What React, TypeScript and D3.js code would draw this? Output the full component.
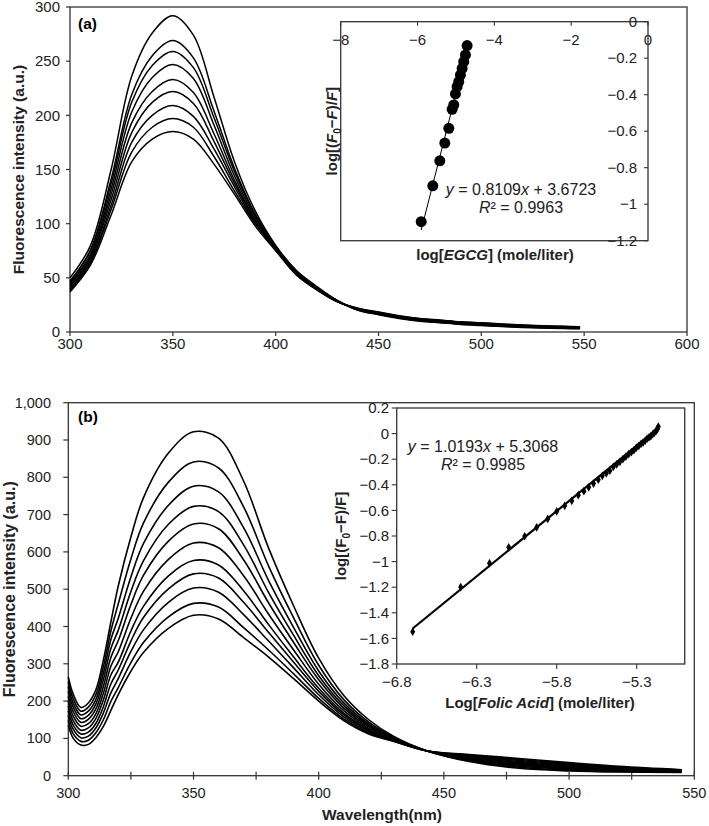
import React from 'react';
import * as d3 from 'd3';

const FONT = '"Liberation Sans", Arial, Helvetica, sans-serif';

// ---------- Panel (a): EGCG quenching spectra ----------
const waveA = [300, 310, 320, 330, 340, 350, 360, 370, 380, 390, 400, 410, 420, 430, 440, 450, 460, 470, 480, 490, 500, 510, 520, 530, 540, 548];
const spectraA = [
  [50, 80, 150, 236, 276, 292, 274, 217, 157, 112, 80, 57, 42, 29, 20, 16, 12.5, 10, 8.5, 7, 6, 5, 4.2, 3.6, 3.2, 3],
  [47, 76, 141, 219, 255, 269, 253, 204, 151, 109, 79, 56, 41, 29, 20.3, 16.3, 12.8, 10.3, 8.8, 7.3, 6.3, 5.3, 4.5, 3.9, 3.5, 3.2],
  [46, 75, 137, 212, 246, 259, 244, 198, 148, 108, 78, 56, 41, 29, 20.5, 16.6, 13.1, 10.6, 9.1, 7.6, 6.6, 5.6, 4.8, 4.2, 3.7, 3.5],
  [44.5, 72, 132, 203, 235, 247, 234, 191, 144, 106, 78, 55, 41, 29, 20.8, 16.9, 13.4, 10.9, 9.4, 7.9, 6.9, 5.9, 5.1, 4.4, 4, 3.7],
  [43, 70, 127, 193, 222, 233, 221, 183, 140, 104, 77, 55, 40, 28, 21, 17.3, 13.8, 11.3, 9.8, 8.3, 7.3, 6.3, 5.4, 4.7, 4.2, 3.9],
  [41.5, 68, 122, 184, 212, 222, 211, 176, 137, 103, 77, 54, 40, 28, 21.3, 17.6, 14.1, 11.6, 10.1, 8.6, 7.6, 6.6, 5.6, 5, 4.5, 4.1],
  [40, 66, 117, 175, 200, 209, 199, 169, 134, 101, 76, 54, 40, 28, 21.5, 17.9, 14.4, 11.9, 10.4, 8.9, 7.9, 6.9, 5.9, 5.3, 4.7, 4.4],
  [38.5, 64, 113, 166, 189, 197, 189, 162, 130, 100, 76, 53, 39, 28, 21.8, 18.2, 14.7, 12.2, 10.7, 9.2, 8.2, 7.2, 6.2, 5.5, 5, 4.6],
  [37, 62, 108, 157, 178, 185, 178, 155, 127, 98, 75, 53, 39, 28, 22, 18.5, 15, 12.5, 11, 9.5, 8.5, 7.5, 6.5, 5.8, 5.2, 4.8],
];
const ticksAX = [300, 350, 400, 450, 500, 550, 600];
const ticksAY = [0, 50, 100, 150, 200, 250, 300];

// Inset (a): log[(F0-F)/F] vs log[EGCG]
const insetAX = [-5.904, -5.602, -5.42, -5.29, -5.186, -5.099, -5.057, -5.013, -4.97, -4.927, -4.883, -4.839, -4.797, -4.753, -4.709];
const insetAY = [-1.096, -0.899, -0.762, -0.665, -0.584, -0.48, -0.456, -0.396, -0.356, -0.329, -0.292, -0.256, -0.219, -0.182, -0.131];
const insetATicksX = [-8, -6, -4, -2, 0];
const insetATicksY = [0, -0.2, -0.4, -0.6, -0.8, -1, -1.2];

// ---------- Panel (b): Folic acid quenching spectra ----------
const waveB = [300, 302, 305, 308, 311, 314, 317, 320, 325, 330, 340, 350, 360, 370, 380, 390, 400, 410, 420, 430, 443, 460, 480, 500, 520, 545];
const spectraB = [
  [265, 218, 183, 195, 230, 310, 412, 510, 640, 745, 865, 922, 905, 790, 610, 455, 315, 215, 150, 105, 67, 38, 20, 13, 10, 9],
  [252, 206, 173, 184, 217, 292, 388, 462, 581, 677, 787, 841, 825, 721, 562, 423, 296, 203.9, 143.7, 102.9, 67, 39.9, 22.6, 15.2, 11.5, 9.7],
  [239, 194, 163, 173, 204, 274, 365, 423, 533, 622, 725, 776, 761, 665, 523, 397, 280.8, 195.1, 138.7, 101.1, 67, 41.8, 25.2, 17.4, 13, 10.4],
  [226, 183, 153, 162, 192, 257, 341, 391, 494, 576, 674, 722, 708, 619, 491, 376, 268.2, 187.7, 134.5, 99.7, 67, 43.7, 27.8, 19.6, 14.5, 11.1],
  [213, 171, 143, 151, 179, 239, 317, 363, 459, 537, 629, 675, 662, 579, 463, 357, 257.3, 181.4, 130.9, 98.5, 67, 45.6, 30.4, 21.8, 16, 11.8],
  [200, 159, 132.5, 139.5, 166, 221, 293.5, 333, 422, 494, 580, 624, 611, 536, 433, 337, 245.3, 174.4, 127, 97.1, 67, 47.5, 33, 24, 17.5, 12.5],
  [187, 147, 122, 128, 153, 203, 270, 305, 388, 454, 536, 577, 565, 496, 405, 318, 234.4, 168, 123.4, 95.9, 67, 49.4, 35.6, 26.2, 19, 13.2],
  [174, 135, 112, 117, 140, 185, 246, 284, 361, 424, 501, 541, 530, 465, 384, 304, 226, 163.1, 120.6, 94.9, 67, 51.3, 38.2, 28.4, 20.5, 13.9],
  [161, 124, 102, 106, 128, 168, 222, 261, 333, 391, 465, 503, 492, 432, 361, 289, 217, 157.9, 117.6, 93.9, 67, 53.2, 40.8, 30.6, 22, 14.6],
  [148, 112, 92, 95, 115, 150, 199, 237, 303, 357, 426, 462, 452, 397, 337, 273, 207.5, 152.4, 114.5, 92.8, 67, 55.1, 43.4, 32.8, 23.5, 15.3],
  [135, 100, 82, 84, 102, 132, 175, 218, 280, 330, 395, 430, 420, 370, 318, 260, 200, 148, 112, 92, 67, 57, 46, 35, 25, 16],
];
const ticksBXLabel = [300, 350, 400, 450, 500, 550];
const ticksBXMajor = [300, 325, 350, 375, 400, 425, 450, 475, 500, 525, 550];
const ticksBY = [0, 100, 200, 300, 400, 500, 600, 700, 800, 900, 1000];

// Inset (b): log[(F0-F)/F] vs Log[Folic Acid]
const insetBX = [-6.7, -6.4, -6.22, -6.1, -6.0, -5.925, -5.856, -5.8, -5.75, -5.706, -5.665, -5.63, -5.6, -5.57, -5.54, -5.515, -5.49, -5.468, -5.446, -5.425, -5.405, -5.386, -5.368, -5.35, -5.333, -5.317, -5.302, -5.287, -5.273, -5.26, -5.247, -5.235, -5.223, -5.212, -5.2, -5.19, -5.18, -5.17, -5.165];
const insetBY = [-1.548, -1.199, -1.012, -0.888, -0.802, -0.732, -0.667, -0.608, -0.564, -0.525, -0.481, -0.45, -0.42, -0.39, -0.36, -0.33, -0.31, -0.29, -0.26, -0.24, -0.22, -0.2, -0.18, -0.16, -0.145, -0.13, -0.11, -0.095, -0.08, -0.07, -0.055, -0.04, -0.03, -0.02, -0.005, 0.005, 0.02, 0.035, 0.055];
const fitB = { slope: 1.0193, intercept: 5.3068 };
const insetBTicksX = [-6.8, -6.3, -5.8, -5.3];
const insetBTicksY = [0.2, 0, -0.2, -0.4, -0.6, -0.8, -1, -1.2, -1.4, -1.6, -1.8];

const minus = (s: string) => s.replace('-', '\u2212');

function leastSquares(xs: number[], ys: number[]) {
  const mx = d3.mean(xs) as number;
  const my = d3.mean(ys) as number;
  let num = 0, den = 0;
  xs.forEach((x, i) => { num += (x - mx) * (ys[i] - my); den += (x - mx) * (x - mx); });
  const slope = num / den;
  return { slope, intercept: my - slope * mx };
}

export default function App() {
  // Panel a scales
  const ax = d3.scaleLinear().domain([300, 600]).range([70, 687]);
  const ay = d3.scaleLinear().domain([0, 300]).range([332, 7]);
  // Panel b scales
  const bx = d3.scaleLinear().domain([300, 550]).range([68.3, 694.3]);
  const by = d3.scaleLinear().domain([0, 1000]).range([775.7, 402.7]);
  // Inset a
  const iax = d3.scaleLinear().domain([-8, 0]).range([340.7, 648]);
  const iay = d3.scaleLinear().domain([-1.2, 0]).range([240.7, 21.7]);
  // Inset b
  const ibx = d3.scaleLinear().domain([-6.8, -5.0]).range([396.7, 684.7]);
  const iby = d3.scaleLinear().domain([-1.8, 0.2]).range([664, 408]);

  const curve = d3.curveCatmullRom.alpha(0.5);
  const lineA = (vals: number[]) =>
    d3.line<number>().x((_, i) => ax(waveA[i])).y((d) => ay(d)).curve(curve)(vals) || '';
  const lineB = (vals: number[]) =>
    d3.line<number>().x((_, i) => bx(waveB[i])).y((d) => by(d)).curve(curve)(vals) || '';

  const fitA = leastSquares(insetAX, insetAY);
  const aX0 = d3.min(insetAX) as number, aX1 = d3.max(insetAX) as number;
  const bX0 = d3.min(insetBX) as number, bX1 = d3.max(insetBX) as number;
  const diamond = d3.symbol().type(d3.symbolDiamond).size(22)() || '';

  const fmtB = d3.format(',');
  const axisColor = '#333';

  return (
    <svg width={709} height={826} style={{ position: 'absolute', left: 0, top: 0, background: '#fff' }} fontFamily={FONT}>
      <rect x={0} y={0} width={709} height={826} fill="#fff" />

      {/* ================= Panel (a) ================= */}
      <rect x={ax(300)} y={ay(300)} width={ax(600) - ax(300)} height={ay(0) - ay(300)} fill="none" stroke={axisColor} strokeWidth={1.3} />
      {ticksAY.map((t) => (
        <g key={'ay' + t}>
          <line x1={ax(300) - 4} x2={ax(300)} y1={ay(t)} y2={ay(t)} stroke={axisColor} strokeWidth={1.2} />
          <text x={60} y={ay(t)} dy="0.35em" textAnchor="end" fontSize={15} fill="#222">{t}</text>
        </g>
      ))}
      {ticksAX.map((t) => (
        <g key={'ax' + t}>
          <line x1={ax(t)} x2={ax(t)} y1={ay(0)} y2={ay(0) + 4} stroke={axisColor} strokeWidth={1.2} />
          <text x={ax(t)} y={349} textAnchor="middle" fontSize={15} fill="#222">{t}</text>
        </g>
      ))}
      {spectraA.map((s, i) => (
        <path key={'sa' + i} d={lineA(s)} fill="none" stroke="#000" strokeWidth={1.5} />
      ))}
      <text x={78} y={29} fontSize={15.5} fontWeight="bold">(a)</text>
      <text transform={`translate(19,${(ay(0) + ay(300)) / 2}) rotate(-90)`} textAnchor="middle" dy="0.35em" fontSize={15.5} fontWeight="bold" fill="#222">
        Fluorescence intensity (a.u.)
      </text>

      {/* Inset (a) */}
      <rect x={iax(-8)} y={iay(0)} width={iax(0) - iax(-8)} height={iay(-1.2) - iay(0)} fill="#fff" stroke={axisColor} strokeWidth={1.3} />
      {insetATicksX.map((t) => (
        <g key={'iax' + t}>
          <line x1={iax(t)} x2={iax(t)} y1={iay(0)} y2={iay(0) + 4} stroke={axisColor} strokeWidth={1.1} />
          <text x={iax(t)} y={45} textAnchor="middle" fontSize={15} fill="#222">{minus(String(t))}</text>
        </g>
      ))}
      {insetATicksY.map((t) => (
        <g key={'iay' + t}>
          <line x1={iax(0) - 4} x2={iax(0)} y1={iay(t)} y2={iay(t)} stroke={axisColor} strokeWidth={1.1} />
          <text x={637} y={iay(t)} dy="0.35em" textAnchor="end" fontSize={15} fill="#222">{minus(String(t))}</text>
        </g>
      ))}
      <line x1={iax(aX0)} x2={iax(aX1)} y1={iay(fitA.slope * aX0 + fitA.intercept)} y2={iay(fitA.slope * aX1 + fitA.intercept)} stroke="#000" strokeWidth={1} />
      {insetAX.map((x, i) => (
        <circle key={'pa' + i} cx={iax(x)} cy={iay(insetAY[i])} r={5.5} fill="#000" />
      ))}
      <text x={521} y={195} textAnchor="middle" fontSize={16} fill="#222">
        <tspan fontStyle="italic">y</tspan> = 0.8109<tspan fontStyle="italic">x</tspan> + 3.6723
      </text>
      <text x={521} y={213} textAnchor="middle" fontSize={16} fill="#222">
        <tspan fontStyle="italic">R</tspan>² = 0.9963
      </text>
      <text x={495} y={260} textAnchor="middle" fontSize={15} fontWeight="bold" fill="#222">
        log[<tspan fontStyle="italic">EGCG</tspan>] (mole/liter)
      </text>
      <text transform={`translate(332,${(iay(0) + iay(-1.2)) / 2}) rotate(-90)`} textAnchor="middle" dy="0.35em" fontSize={15} fontWeight="bold" fill="#222">
        log[(<tspan fontStyle="italic">F</tspan><tspan fontSize={10} dy={4}>0</tspan><tspan dy={-4}>−</tspan><tspan fontStyle="italic">F</tspan>)/<tspan fontStyle="italic">F</tspan>]
      </text>

      {/* ================= Panel (b) ================= */}
      <rect x={bx(300)} y={by(1000)} width={bx(550) - bx(300)} height={by(0) - by(1000)} fill="none" stroke={axisColor} strokeWidth={1.3} />
      {ticksBY.map((t) => (
        <g key={'by' + t}>
          <line x1={bx(300) - 5} x2={bx(300)} y1={by(t)} y2={by(t)} stroke={axisColor} strokeWidth={1.2} />
          <text x={51} y={by(t)} dy="0.35em" textAnchor="end" fontSize={14.5} fill="#222">{fmtB(t)}</text>
        </g>
      ))}
      {ticksBXMajor.map((t) => (
        <line key={'bxm' + t} x1={bx(t)} x2={bx(t)} y1={by(0) - 4} y2={by(0) + 4} stroke={axisColor} strokeWidth={1.2} />
      ))}
      {ticksBXLabel.map((t) => (
        <text key={'bx' + t} x={bx(t)} y={798} textAnchor="middle" fontSize={14.5} fill="#222">{t}</text>
      ))}
      {spectraB.map((s, i) => (
        <path key={'sb' + i} d={lineB(s)} fill="none" stroke="#000" strokeWidth={1.6} />
      ))}
      <text x={78} y={422} fontSize={15.5} fontWeight="bold">(b)</text>
      <text transform={`translate(9,${(by(0) + by(1000)) / 2}) rotate(-90)`} textAnchor="middle" dy="0.35em" fontSize={16} fontWeight="bold" fill="#222">
        Fluorescence intensity (a.u.)
      </text>
      <text x={382} y={820} textAnchor="middle" fontSize={15.5} fontWeight="bold" fill="#222">Wavelength(nm)</text>

      {/* Inset (b) */}
      <rect x={ibx(-6.8)} y={iby(0.2)} width={ibx(-5.0) - ibx(-6.8)} height={iby(-1.8) - iby(0.2)} fill="#fff" stroke={axisColor} strokeWidth={1.3} />
      {insetBTicksY.map((t) => (
        <g key={'iby' + t}>
          <line x1={ibx(-6.8) - 5} x2={ibx(-6.8)} y1={iby(t)} y2={iby(t)} stroke={axisColor} strokeWidth={1.1} />
          <text x={389} y={iby(t)} dy="0.35em" textAnchor="end" fontSize={15} fill="#222">{minus(String(t))}</text>
        </g>
      ))}
      {insetBTicksX.map((t) => (
        <g key={'ibx' + t}>
          <line x1={ibx(t)} x2={ibx(t)} y1={iby(-1.8)} y2={iby(-1.8) + 5} stroke={axisColor} strokeWidth={1.1} />
          <text x={ibx(t)} y={687} textAnchor="middle" fontSize={15} fill="#222">{minus(String(t))}</text>
        </g>
      ))}
      <line x1={ibx(bX0)} x2={ibx(bX1)} y1={iby(fitB.slope * bX0 + fitB.intercept)} y2={iby(fitB.slope * bX1 + fitB.intercept)} stroke="#000" strokeWidth={2.2} />
      {insetBX.map((x, i) => (
        <path key={'pb' + i} d={diamond} transform={`translate(${ibx(x)},${iby(insetBY[i])})`} fill="#000" />
      ))}
      <text x={483} y={452} textAnchor="middle" fontSize={16} fill="#222">
        <tspan fontStyle="italic">y</tspan> = 1.0193<tspan fontStyle="italic">x</tspan> + 5.3068
      </text>
      <text x={483} y={470} textAnchor="middle" fontSize={16} fill="#222">
        <tspan fontStyle="italic">R</tspan>² = 0.9985
      </text>
      <text x={540} y={708} textAnchor="middle" fontSize={15} fontWeight="bold" fill="#222">
        Log[<tspan fontStyle="italic">Folic Acid</tspan>] (mole/liter)
      </text>
      <text transform={`translate(341,${(iby(0.2) + iby(-1.8)) / 2}) rotate(-90)`} textAnchor="middle" dy="0.35em" fontSize={15} fontWeight="bold" fill="#222">
        log[(F<tspan fontSize={10} dy={4}>0</tspan><tspan dy={-4}>−</tspan>F)/F]
      </text>
    </svg>
  );
}
